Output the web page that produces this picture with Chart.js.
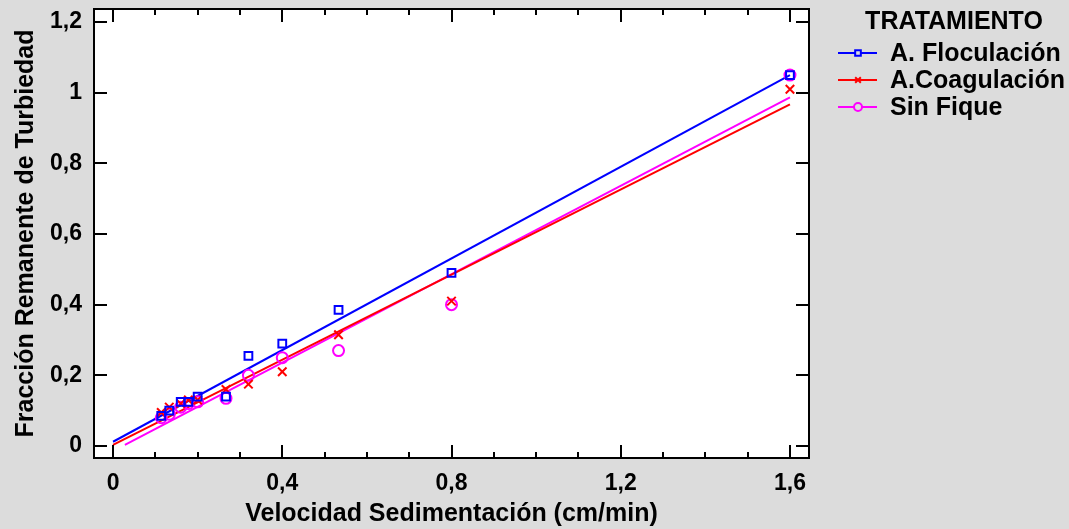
<!DOCTYPE html>
<html>
<head>
<meta charset="utf-8">
<script src="https://cdn.jsdelivr.net/npm/chart.js@4/dist/chart.umd.min.js"></script>
<style>
  body { margin: 0; background: #dcdcdc; }
  #wrap { width: 1069px; height: 529px; }
</style>
</head>
<body>
<div id="wrap"><canvas id="grafico"></canvas></div>
<script>
// velocidad de sedimentacion (cm/min) de cada lectura
const velocidad = [1.6, 0.8, 0.533, 0.4, 0.32, 0.267, 0.2, 0.178, 0.16, 0.133, 0.114]

// fraccion remanente por tratamiento
const floculacion = [1.05, 0.49, 0.385, 0.29, 0.255, 0.14, 0.14, 0.125, 0.125, 0.1, 0.085]
const coagulacion = [1.01, 0.41, 0.315, 0.21, 0.175, 0.16, 0.13, 0.13, 0.12, 0.11, 0.095]
const sinFique = [1.05, 0.4, 0.27, 0.25, 0.2, 0.135, 0.125, 0.12, 0.11, 0.09, 0.08]

// rectas ajustadas (extremos x, y)
const ajusteFlocX = [0, 1.6], ajusteFlocY = [0.012, 1.05]
const ajusteCoagX = [0, 1.6], ajusteCoagY = [0.003, 0.967]
const ajusteSinX = [0.028, 1.6], ajusteSinY = [0.003, 0.987]

const xTicks = [0, 0.4, 0.8, 1.2, 1.6]
const xMinor = [0.1, 0.2, 0.3, 0.5, 0.6, 0.7, 0.9, 1.0, 1.1, 1.3, 1.4, 1.5]
const yTicks = [0, 0.2, 0.4, 0.6, 0.8, 1, 1.2]

const tratamientos = ["A. Floculación", "A.Coagulación", "Sin Fique"]
const colores = ["#0000ff", "#ff0000", "#ff00ff"]
const marcas = ["rect", "crossRot", "circle"]

const fuente = "'Liberation Sans', Arial, sans-serif"

function puntos(xs, ys) {
    return xs.map((x, i) => ({x: x, y: ys[i]}))
}

function coma(v) {
    return String(v).replace(".", ",")
}

const seriesPuntos = [floculacion, coagulacion, sinFique].map((ys, i) => ({
    label: tratamientos[i],
    data: puntos(velocidad, ys),
    showLine: false,
    pointStyle: marcas[i],
    pointRadius: i == 1 ? 6 : 5.5,
    pointBorderWidth: 2,
    pointBorderColor: colores[i],
    pointBackgroundColor: "transparent",
    borderColor: colores[i]
}))

const seriesAjuste = [[ajusteFlocX, ajusteFlocY], [ajusteCoagX, ajusteCoagY], [ajusteSinX, ajusteSinY]].map((a, i) => ({
    label: tratamientos[i] + " ajuste",
    data: puntos(a[0], a[1]),
    showLine: true,
    pointRadius: 0,
    borderColor: colores[i],
    borderWidth: 2
}))

// fondo blanco, marco, marcas de escala hacia adentro
const marco = {
    id: "marco",
    beforeDraw(chart) {
        const {ctx, chartArea: a} = chart
        ctx.save()
        ctx.fillStyle = "#ffffff"
        ctx.fillRect(a.left, a.top, a.right - a.left, a.bottom - a.top)
        ctx.restore()
    },
    afterDatasetsDraw(chart) {
        const {ctx, chartArea: a, scales} = chart
        ctx.save()
        ctx.strokeStyle = "#000"
        ctx.lineWidth = 2
        ctx.beginPath()
        xTicks.forEach(v => {
            const px = Math.round(scales.x.getPixelForValue(v))
            ctx.moveTo(px, a.bottom); ctx.lineTo(px, a.bottom - 13)
            ctx.moveTo(px, a.top); ctx.lineTo(px, a.top + 13)
        })
        xMinor.forEach(v => {
            const px = Math.round(scales.x.getPixelForValue(v))
            ctx.moveTo(px, a.bottom); ctx.lineTo(px, a.bottom - 6)
            ctx.moveTo(px, a.top); ctx.lineTo(px, a.top + 6)
        })
        yTicks.forEach(v => {
            const py = Math.round(scales.y.getPixelForValue(v))
            ctx.moveTo(a.left, py); ctx.lineTo(a.left + 13, py)
            ctx.moveTo(a.right, py); ctx.lineTo(a.right - 13, py)
        })
        ctx.stroke()
        ctx.strokeRect(a.left, a.top, a.right - a.left, a.bottom - a.top)
        ctx.restore()
    }
}

// leyenda a la derecha del grafico
const leyenda = {
    id: "leyenda",
    afterDraw(chart) {
        const ctx = chart.ctx
        ctx.save()
        ctx.fillStyle = "#000"
        ctx.font = "bold 25px " + fuente
        ctx.textBaseline = "middle"
        ctx.textAlign = "center"
        ctx.fillText("TRATAMIENTO", 954, 22)
        ctx.textAlign = "left"
        tratamientos.forEach((t, i) => {
            const y = 53 + i * 27
            ctx.strokeStyle = colores[i]
            ctx.lineWidth = 2
            ctx.beginPath()
            ctx.moveTo(838, y); ctx.lineTo(877, y)
            ctx.stroke()
            ctx.fillStyle = "#dcdcdc"
            Chart.helpers.drawPoint(ctx, {pointStyle: marcas[i], radius: 4, borderWidth: 2}, 858, y)
            ctx.fillStyle = "#000"
            ctx.fillText(t, 890, y + 1)
        })
        ctx.restore()
    }
}

// quitar el relleno que Chart.js deja para las etiquetas de los extremos
function sinRelleno(axis) {
    axis.paddingTop = 0
    axis.paddingBottom = 0
    axis.paddingLeft = 0
    axis.paddingRight = 0
}

new Chart(document.getElementById("grafico"), {
    type: "scatter",
    data: { datasets: seriesPuntos.concat(seriesAjuste) },
    plugins: [marco, leyenda],
    options: {
        responsive: true,
        maintainAspectRatio: false,
        animation: false,
        layout: { padding: { top: 9, right: 260, left: 0, bottom: 0 } },
        plugins: {
            legend: { display: false },
            tooltip: { enabled: false }
        },
        scales: {
            x: {
                type: "linear",
                min: -0.045,
                max: 1.645,
                afterBuildTicks: (axis) => { axis.ticks = xTicks.map(v => ({value: v})) },
                afterFit: (axis) => { axis.height = 71; sinRelleno(axis) },
                grid: { display: false, drawTicks: false },
                border: { display: false },
                ticks: {
                    color: "#000",
                    padding: 12,
                    maxRotation: 0,
                    font: { family: fuente, size: 23, weight: "bold" },
                    callback: (v) => coma(v)
                },
                title: {
                    display: true,
                    text: "Velocidad Sedimentación (cm/min)",
                    color: "#000",
                    padding: { top: 0, bottom: 0 },
                    font: { family: fuente, size: 25, weight: "bold" }
                }
            },
            y: {
                type: "linear",
                min: -0.034,
                max: 1.237,
                afterBuildTicks: (axis) => { axis.ticks = yTicks.map(v => ({value: v})) },
                afterFit: (axis) => { axis.width = 94; sinRelleno(axis) },
                grid: { display: false, drawTicks: false },
                border: { display: false },
                ticks: {
                    color: "#000",
                    padding: 12,
                    font: { family: fuente, size: 23, weight: "bold" },
                    callback: (v) => coma(v)
                },
                title: {
                    display: true,
                    text: "Fracción Remanente de Turbiedad",
                    color: "#000",
                    padding: { top: 11, bottom: 0 },
                    font: { family: fuente, size: 25, weight: "bold" }
                }
            }
        }
    }
})
</script>
</body>
</html>
